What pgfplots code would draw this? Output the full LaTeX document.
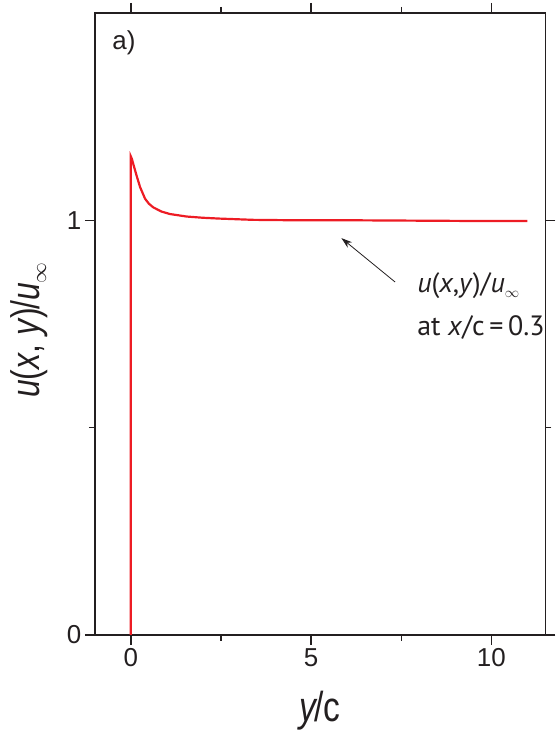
\documentclass[border=0pt]{standalone}
\usepackage{fontspec}
\setmainfont{Liberation Sans}
\newfontfamily\ptsans{PT Sans}
\newfontfamily\narrowsans[FakeStretch=0.8]{Liberation Sans}
\usepackage{pgfplots}
\pgfplotsset{compat=1.18}
\usetikzlibrary{arrows.meta}
\definecolor{curvered}{HTML}{ED1C24}
\definecolor{axisgray}{HTML}{231F20}
\begin{document}
\begin{tikzpicture}
\begin{axis}[
  scale only axis,
  width=452pt, height=623.7pt,
  xmin=-1, xmax=11.5, ymin=0, ymax=1.5,
  xtick={0,5,10}, minor xtick={2.5,7.5},
  ytick={0,1}, minor ytick={0.5},
  tick align=outside,
  major tick length=10pt, minor tick length=6pt,
  axis line style={line width=1.6pt, axisgray},
  every tick/.style={line width=1.4pt, axisgray},
  tick label style={font=\fontsize{26}{26}\selectfont, text=axisgray},
  /pgf/number format/assume math mode=true,
  clip=false,
  xlabel={\textit{y}\kern-0.08em/c},
  ylabel={\textit{u}(\textit{x}, \textit{y})\kern-0.05em/\textit{u}\raisebox{-0.3ex}{$\scriptscriptstyle\infty$}},
  xlabel style={font=\narrowsans\fontsize{42}{42}\selectfont, text=axisgray, at={(axis description cs:0.5,-0.14)}, anchor=base},
  ylabel style={font=\narrowsans\fontsize{40}{40}\selectfont, text=axisgray, at={(axis description cs:-0.145,0.49)}, anchor=center},
]
\addplot[curvered, line width=2.2pt] coordinates {
 (0,0) (0,1.154) (0.03,1.148) (0.08,1.132) (0.166,1.106) (0.257,1.080) (0.395,1.052)
 (0.5,1.040) (0.624,1.031) (0.85,1.021) (1.086,1.015) (1.547,1.009) (2.0,1.006) (2.467,1.004)
 (3.387,1.001) (4.5,1.000) (6,1.000) (8,0.999) (10,0.998) (11,0.998)
};
\draw[-{Stealth[length=11pt,width=7pt]}, line width=0.8pt, axisgray] (axis cs:7.33,0.851) -- (axis cs:5.84,0.957);
\node[anchor=base west, inner sep=0pt, font=\ptsans\fontsize{28}{28}\selectfont, text=axisgray] at (axis cs:7.94,0.826) {\textit{u}(\textit{x},\textit{y})/\textit{u}\raisebox{-0.35ex}{$\scriptscriptstyle\infty$}};
\node[anchor=base west, inner sep=0pt, font=\ptsans\fontsize{28}{28}\selectfont, text=axisgray] at (axis cs:7.94,0.722) {at \textit{x}/c\,=\,0.3};
\node[anchor=base west, inner sep=0pt, font=\fontsize{26}{26}\selectfont, text=axisgray] at (axis cs:-0.517,1.412) {a)};
\path (axis description cs:-0.2102,-0.1560) rectangle (axis description cs:1.0133,1.0208);
\end{axis}
\end{tikzpicture}
\end{document}
